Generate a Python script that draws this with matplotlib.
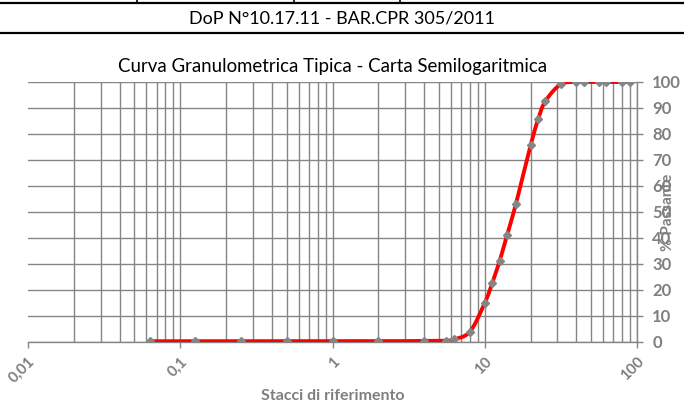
import numpy as np
import matplotlib
matplotlib.use('Agg')
import matplotlib.pyplot as plt
from matplotlib.ticker import FixedLocator, NullFormatter

plt.rcParams['font.family'] = ['Lato', 'DejaVu Sans']

# Aperture setacci (mm) e percentuale passante
stacci = [0.063, 0.125, 0.25, 0.5, 1, 2, 4, 5.6, 6.3, 8, 10, 11.2, 12.5, 14, 16,
          20, 22.4, 25, 31.5, 40, 45, 56, 63, 80, 90]
passante = [0.3, 0.3, 0.3, 0.3, 0.3, 0.3, 0.4, 0.5, 1.0, 4.0, 15.0, 22.6, 31.0,
            41.0, 53.0, 75.6, 85.6, 92.6, 99.1, 100, 100, 100, 100, 100, 100]

x_ticks = [0.01, 0.1, 1, 10, 100]
x_tick_labels = ['0,01', '0,1', '1', '10', '100']
y_ticks = list(range(0, 101, 10))

titolo_doc = 'DoP N°10.17.11 - BAR.CPR 305/2011'
titolo = 'Curva Granulometrica Tipica - Carta Semilogaritmica'

GRIGIO = '#858585'
GRIGIO_TESTO = '#7f7f7f'


def curva_smussata(xs, ys, n=30):
    # linea "smussata" tipo foglio di calcolo: Bezier con tangenti Catmull-Rom
    # calcolate nello spazio (log x, y) scalato come sul grafico
    u = np.log10(xs) * 152.0
    v = np.asarray(ys) * 2.6
    pu, pv = [], []
    for i in range(len(u) - 1):
        u0, v0 = u[max(i - 1, 0)], v[max(i - 1, 0)]
        u1, v1 = u[i], v[i]
        u2, v2 = u[i + 1], v[i + 1]
        u3, v3 = u[min(i + 2, len(u) - 1)], v[min(i + 2, len(u) - 1)]
        c1u, c1v = u1 + (u2 - u0) / 6, v1 + (v2 - v0) / 6
        c2u, c2v = u2 - (u3 - u1) / 6, v2 - (v3 - v1) / 6
        t = np.linspace(0, 1, n)
        bu = (1 - t) ** 3 * u1 + 3 * (1 - t) ** 2 * t * c1u + 3 * (1 - t) * t ** 2 * c2u + t ** 3 * u2
        bv = (1 - t) ** 3 * v1 + 3 * (1 - t) ** 2 * t * c1v + 3 * (1 - t) * t ** 2 * c2v + t ** 3 * v2
        pu.extend(bu)
        pv.extend(bv)
    return 10 ** (np.array(pu) / 152.0), np.array(pv) / 2.6


fig = plt.figure(figsize=(6.84, 4.03), dpi=100)

# intestazione del documento
fig.add_artist(plt.Line2D([0, 1], [1 - 3 / 403, 1 - 3 / 403], color='black', lw=1.6))
fig.add_artist(plt.Line2D([0, 1], [1 - 33 / 403, 1 - 33 / 403], color='black', lw=1.6))
for xv in [137, 294, 400]:
    fig.add_artist(plt.Line2D([xv / 684, xv / 684], [1 - 3 / 403, 1], color='black', lw=1.2))
fig.text(342 / 684, 1 - 18 / 403, titolo_doc, ha='center', va='center', fontsize=13, color='black')

ax = fig.add_axes([28 / 684, (403 - 342) / 403, (637 - 28) / 684, (342 - 82) / 403])
ax.set_xscale('log')
ax.set_xlim(0.01, 100)
ax.set_ylim(0, 100)

xs, ys = curva_smussata(stacci, passante)
ax.plot(xs, ys, color='#ff0000', lw=2.8, zorder=3, solid_capstyle='round')
ax.plot(stacci, passante, linestyle='none', marker='D', markersize=4.5,
        color=GRIGIO, markeredgecolor=GRIGIO, zorder=4)

ax.xaxis.set_major_locator(FixedLocator(x_ticks))
minori = [m * d for d in [0.01, 0.1, 1, 10] for m in range(2, 10)]
ax.xaxis.set_minor_locator(FixedLocator(minori))
ax.xaxis.set_minor_formatter(NullFormatter())
ax.set_xticklabels(x_tick_labels, rotation=45, ha='right', va='top',
                   rotation_mode='anchor', fontsize=11, fontweight='bold', color=GRIGIO_TESTO)
ax.set_yticks(y_ticks)
ax.yaxis.tick_right()
ax.yaxis.set_label_position('right')
for lab in ax.get_yticklabels():
    lab.set_fontsize(12)
    lab.set_fontweight('bold')
    lab.set_color(GRIGIO_TESTO)

ax.grid(True, which='both', axis='x', color=GRIGIO, lw=1.0)
ax.grid(True, which='major', axis='y', color=GRIGIO, lw=1.0)
ax.xaxis.get_major_ticks()[0].gridline.set_visible(False)

ax.tick_params(axis='x', which='major', direction='out', length=4, width=1, color=GRIGIO, pad=5)
ax.tick_params(axis='x', which='minor', length=0)
ax.tick_params(axis='y', which='major', direction='out', length=4, width=1, color=GRIGIO, pad=7)

for s in ['left', 'top']:
    ax.spines[s].set_visible(False)
for s in ['right', 'bottom']:
    ax.spines[s].set_color(GRIGIO)
    ax.spines[s].set_linewidth(1.0)

ax.set_title(titolo, fontsize=13.4, color='black', pad=7)
ax.set_xlabel('Stacci di riferimento', fontsize=11.5, fontweight='bold', color=GRIGIO_TESTO, labelpad=2)
ax.yaxis.set_label_coords(1.04, 0.44)
ax.set_ylabel('% Passante', fontsize=11, fontweight='bold', color=GRIGIO_TESTO, rotation=90)

fig.savefig('out.png', dpi=100)
plt.close(fig)
